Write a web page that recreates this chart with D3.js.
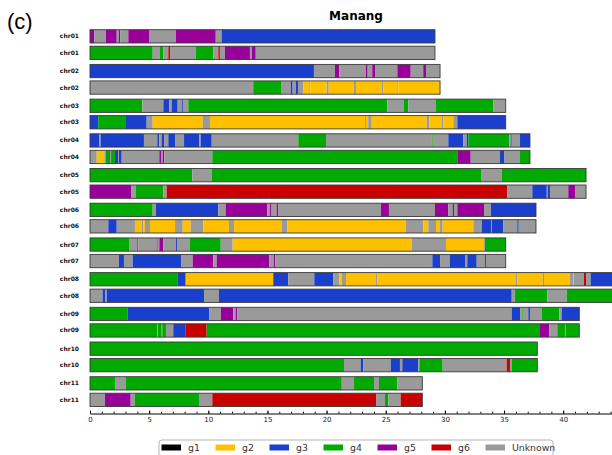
<!DOCTYPE html>
<html>
<head>
<meta charset="utf-8">
<script src="https://cdn.jsdelivr.net/npm/d3@7"></script>
<style>
  body { margin: 0; background: #fff; }
  svg { display: block; }
</style>
</head>
<body>
<div id="chart"></div>
<script>
// Chromosomes, each painted for two haplotypes (a, b)
var chromosomes = ["chr01", "chr02", "chr03", "chr04", "chr05", "chr06",
                   "chr07", "chr08", "chr09", "chr10", "chr11"];
var groupKeys = ["g1", "g2", "g3", "g4", "g5", "g6", "U"];
var groupLabels = ["g1", "g2", "g3", "g4", "g5", "g6", "Unknown"];
var xTicks = [0, 5, 10, 15, 20, 25, 30, 35, 40];

// Segments as [group, end]; each one starts where the previous ended
var chr01a = [["g5",0.36],["U",1.35],["g5",2.26],["U",2.45],["g5",2.55],["U",3.24],["g5",4.99],["U",7.27],["g5",10.63],["U",11.13],["g3",29.16]];
var chr01b = [["g4",5.30],["U",5.92],["g4",6.20],["U",6.62],["g6",6.76],["U",8.93],["g4",10.42],["U",10.85],["g6",10.98],["U",11.41],["g5",13.52],["U",13.67],["g5",14.01],["U",29.16]];
var chr02a = [["g3",18.93],["U",20.71],["g5",21.07],["U",23.33],["g5",23.47],["U",23.86],["g5",24.09],["U",25.98],["g5",27.11],["U",28.17],["g5",28.40],["U",29.59]];
var chr02b = [["U",13.80],["g4",16.20],["U",16.97],["g3",17.13],["U",17.41],["g3",17.58],["U",18.03],["g2",18.54],["U",18.62],["g2",20.01],["U",20.18],["g2",22.32],["U",22.49],["g2",24.66],["U",24.79],["g2",25.98],["U",26.06],["g2",29.59]];
var chr03a = [["g4",4.42],["U",6.20],["g3",6.70],["U",6.91],["g3",7.41],["U",7.75],["g3",7.85],["U",8.31],["g4",25.13],["U",26.54],["g4",26.91],["U",29.25],["g4",34.09],["U",35.14]];
var chr03b = [["g3",0.70],["g4",3.04],["g3",4.79],["U",5.30],["g2",9.53],["U",10.14],["g2",23.25],["U",23.33],["g2",23.52],["U",23.81],["g2",28.46],["U",28.68],["g2",29.73],["U",29.86],["g2",30.71],["U",31.05],["g3",35.14]];
var chr04a = [["g3",0.79],["U",0.90],["g3",4.56],["U",5.69],["g3",5.86],["U",6.06],["g3",6.26],["U",6.62],["g3",7.19],["U",7.95],["g3",9.24],["U",9.36],["g3",10.29],["U",17.61],["g4",19.95],["U",28.88],["g4",28.97],["U",30.29],["g3",31.56],["U",31.84],["g3",31.98],["g4",35.44],["U",35.56],["g3",35.65],["U",36.35],["g3",37.19]];
var chr04b = [["U",0.57],["g2",1.21],["U",1.33],["g4",1.69],["U",1.78],["g4",2.11],["g3",2.37],["U",2.45],["g3",2.68],["U",5.86],["g5",6.00],["U",6.15],["g5",6.28],["U",10.34],["g4",31.05],["g5",32.18],["U",34.66],["g3",35.00],["U",36.35],["g4",37.19]];
var chr05a = [["g4",8.65],["U",10.29],["g4",33.05],["U",34.80],["g4",41.93]];
var chr05b = [["g5",3.47],["U",3.86],["g4",6.20],["U",6.48],["g6",35.27],["U",37.39],["g3",38.61],["U",38.69],["g3",38.88],["U",40.43],["g5",41.00],["U",41.93]];
var chr06a = [["g4",5.30],["U",5.58],["g3",10.85],["U",11.47],["g5",14.99],["U",15.22],["g5",15.30],["U",15.78],["g5",15.92],["U",24.60],["g5",25.27],["U",29.16],["g5",30.29],["U",30.66],["g5",30.77],["U",31.05],["g5",33.31],["U",33.90],["g3",37.70]];
var chr06b = [["U",1.55],["g3",2.26],["U",3.80],["g2",4.37],["U",4.51],["g2",4.65],["U",5.07],["g2",7.19],["U",7.84],["g2",8.51],["U",9.58],["g2",11.75],["U",12.17],["g2",16.20],["U",16.68],["g2",26.69],["U",28.17],["g2",28.60],["U",29.25],["g2",29.59],["U",29.81],["g2",32.40],["U",33.11],["g3",33.90],["U",33.98],["g3",34.94],["U",36.12],["g3",36.24],["U",37.70]];
var chr07a = [["g4",3.30],["U",4.00],["g5",4.08],["U",5.64],["g5",5.72],["U",5.86],["g5",6.20],["U",7.27],["g3",7.35],["U",8.45],["g4",11.05],["U",12.06],["g2",27.19],["U",30.09],["g2",33.31],["U",33.39],["g4",35.14]];
var chr07b = [["U",2.45],["g3",2.87],["U",3.61],["g3",7.69],["U",8.68],["g5",10.42],["U",10.71],["g5",15.16],["U",15.55],["g5",15.66],["U",28.94],["g3",29.59],["U",30.43],["g3",31.70],["U",31.89],["g3",32.69],["U",33.39],["g3",33.47],["U",35.14]];
var chr08a = [["g4",7.38],["g3",8.09],["g2",15.49],["g3",16.76],["U",18.96],["g3",20.57],["U",21.07],["g2",21.28],["U",21.64],["g2",24.18],["U",24.29],["g2",36.01],["U",36.12],["g2",38.27],["U",38.38],["g2",40.57],["U",40.83],["g2",40.91],["U",41.76],["g6",41.93],["U",42.32],["g3",46.0]];
var chr08b = [["U",1.07],["g3",1.27],["U",1.41],["g3",9.64],["U",10.90],["g3",35.65],["U",35.93],["g4",38.66],["U",40.30],["g4",46.0]];
var chr09a = [["g4",3.19],["g3",10.08],["U",11.07],["g5",12.11],["U",12.32],["g5",12.45],["U",35.65],["g3",36.35],["U",36.49],["g4",36.58],["U",37.05],["g3",37.19],["U",38.18],["g4",39.67],["U",39.87],["g3",41.36]];
var chr09b = [["g4",5.69],["U",5.75],["g4",6.06],["U",6.11],["g4",6.42],["U",7.04],["g3",8.09],["g6",9.86],["g4",38.04],["g5",38.83],["U",39.50],["g4",40.15],["U",40.21],["g4",41.36]];
var chr10a = [["g4",37.81]];
var chr10b = [["g4",21.47],["U",22.88],["g3",23.10],["U",25.42],["g3",26.20],["U",26.40],["g3",27.75],["U",27.84],["g4",29.81],["U",35.22],["g6",35.50],["U",35.65],["g4",37.81]];
var chr11a = [["g4",2.11],["U",3.04],["g4",21.28],["U",22.32],["g4",24.01],["U",24.43],["g4",25.98],["U",28.09]];
var chr11b = [["U",1.27],["g5",3.44],["U",3.80],["g4",9.21],["U",10.34],["g6",24.18],["U",24.94],["g4",25.22],["U",26.26],["g6",28.09]];

var tracks = [[chr01a, chr01b], [chr02a, chr02b], [chr03a, chr03b], [chr04a, chr04b],
              [chr05a, chr05b], [chr06a, chr06b], [chr07a, chr07b], [chr08a, chr08b],
              [chr09a, chr09b], [chr10a, chr10b], [chr11a, chr11b]];

// Page size and layout
var svgWidth = 612;
var svgHeight = 455;
var barHeight = 13.3;
var hapOffset = 16.5;
var axisY = 413.5;

var svg = d3.select("#chart")
  .append("svg")
  .attr("width", svgWidth)
  .attr("height", svgHeight);

// x runs past the right edge of the page, like the original
var xScale = d3.scaleLinear().domain([0, 46]).range([90, 90 + 46 * 11.83]);
var yScale = d3.scaleBand().domain(chromosomes).range([29.7, 29.7 + 11 * 34.7]);

var color = d3.scaleOrdinal()
  .domain(groupKeys)
  .range(["#000000", "#ffc000", "#1a3fcc", "#00aa00", "#990099", "#c80000", "#9a9a9a"]);

// Build the segment rows
var rows = [];
chromosomes.forEach(function(chr, i) {
  tracks[i].forEach(function(track, h) {
    var start = 0;
    var segs = track.map(function(s) {
      var seg = { group: s[0], start: start, end: s[1] };
      start = s[1];
      return seg;
    });
    rows.push({ chr: chr, hap: h, segs: segs, length: start });
  });
});

var rowGroup = svg.selectAll(".row")
  .data(rows)
  .enter()
  .append("g")
  .attr("class", "row")
  .attr("transform", d => "translate(0," + (yScale(d.chr) + d.hap * hapOffset) + ")");

rowGroup.selectAll("rect.seg")
  .data(d => d.segs)
  .enter()
  .append("rect")
  .attr("class", "seg")
  .attr("x", d => xScale(d.start))
  .attr("y", 0)
  .attr("width", d => Math.max(0.6, xScale(d.end) - xScale(d.start)))
  .attr("height", barHeight)
  .attr("fill", d => color(d.group));

// outline around each bar
rowGroup.append("rect")
  .attr("x", xScale(0))
  .attr("y", 0)
  .attr("width", d => xScale(d.length) - xScale(0))
  .attr("height", barHeight)
  .attr("fill", "none")
  .attr("stroke", "#3a3a3a")
  .attr("stroke-width", 0.9);

rowGroup.append("text")
  .attr("x", 79)
  .attr("y", barHeight / 2 + 2)
  .attr("text-anchor", "end")
  .attr("font-family", "DejaVu Sans")
  .attr("font-weight", "bold")
  .attr("font-size", 6)
  .attr("fill", "#111")
  .text(d => d.chr);

// x axis: minor ticks every unit, labelled ticks every 5
var minorAxis = d3.axisBottom(xScale)
  .tickValues(d3.range(0, 47))
  .tickSize(-1.8)
  .tickSizeOuter(0)
  .tickFormat("");

svg.append("g")
  .attr("transform", "translate(0," + axisY + ")")
  .call(minorAxis)
  .call(g => g.select(".domain").attr("stroke", "#000").attr("stroke-width", 1));

var bottomAxis = d3.axisBottom(xScale)
  .tickValues(xTicks)
  .tickSize(-3)
  .tickSizeOuter(0)
  .tickPadding(4);

svg.append("g")
  .attr("transform", "translate(0," + axisY + ")")
  .call(bottomAxis)
  .call(g => g.select(".domain").remove())
  .call(g => g.selectAll("text")
    .attr("font-family", "DejaVu Sans")
    .attr("font-size", 7)
    .attr("fill", "#222"));

// Title and panel letter
svg.append("text")
  .attr("x", 356)
  .attr("y", 20)
  .attr("text-anchor", "middle")
  .attr("font-family", "DejaVu Sans")
  .attr("font-weight", "bold")
  .attr("font-size", 12)
  .text("Manang");

svg.append("text")
  .attr("x", 7)
  .attr("y", 29)
  .attr("font-family", "Liberation Sans, Arial, sans-serif")
  .attr("font-size", 22)
  .text("(c)");

// Legend
var legend = svg.append("g").attr("transform", "translate(159,440)");

legend.append("rect")
  .attr("x", 0)
  .attr("y", 0)
  .attr("width", 394)
  .attr("height", 22)
  .attr("rx", 3)
  .attr("fill", "#fff")
  .attr("stroke", "#b5b5b5")
  .attr("stroke-width", 1);

var items = legend.selectAll(".item")
  .data(groupKeys)
  .enter()
  .append("g")
  .attr("class", "item")
  .attr("transform", (d, i) => "translate(" + (2.5 + i * 54) + ",0)");

items.append("rect")
  .attr("x", 0)
  .attr("y", 4.5)
  .attr("width", 19.5)
  .attr("height", 6)
  .attr("fill", d => color(d));

items.append("text")
  .attr("x", 26.5)
  .attr("y", 10.8)
  .attr("font-family", "DejaVu Sans")
  .attr("font-size", 9.3)
  .attr("fill", "#333")
  .text((d, i) => groupLabels[i]);
</script>
</body>
</html>
